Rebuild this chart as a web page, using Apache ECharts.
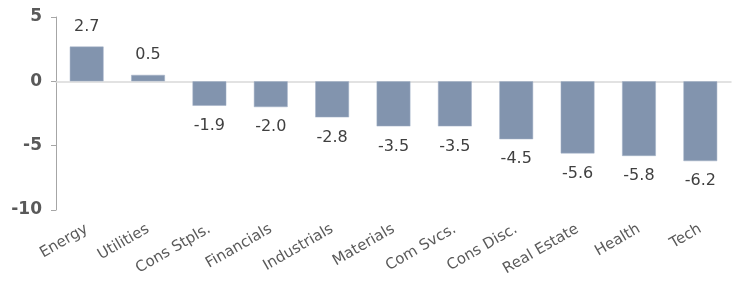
<!DOCTYPE html>
<html>
<head>
<meta charset="utf-8">
<script src="https://cdn.jsdelivr.net/npm/echarts@6/dist/echarts.min.js"></script>
<style>
  html, body { margin: 0; padding: 0; background: #fff; }
  #chart { width: 739px; height: 287px; }
</style>
</head>
<body>
<div id="chart"></div>
<script>
const sectors = ['Energy', 'Utilities', 'Cons Stpls.', 'Financials', 'Industrials', 'Materials', 'Com Svcs.', 'Cons Disc.', 'Real Estate', 'Health', 'Tech']
const returns = [2.7, 0.5, -1.9, -2.0, -2.8, -3.5, -3.5, -4.5, -5.6, -5.8, -6.2]

const font = 'DejaVu Sans'
const chart = echarts.init(document.getElementById('chart'))

const option = {
  animation: false,
  grid: { left: 56, right: 8, top: 17, bottom: 77 },
  xAxis: {
    type: 'category',
    data: sectors,
    axisLine: { onZero: true, lineStyle: { color: '#d9d9d9', width: 1.5 } },
    axisTick: { show: false },
    axisLabel: {
      rotate: 30,
      interval: 0,
      color: '#5a5a5a',
      fontFamily: font,
      fontSize: 15,
      margin: 18
    }
  },
  yAxis: {
    type: 'value',
    min: -10,
    max: 5,
    interval: 5,
    axisLine: { show: true, lineStyle: { color: '#a6a6a6' } },
    axisTick: { show: true, length: 5, lineStyle: { color: '#a6a6a6' } },
    splitLine: { show: false },
    axisLabel: {
      color: '#595959',
      fontFamily: font,
      fontSize: 17,
      fontWeight: 'bold',
      margin: 14
    }
  },
  series: [{
    type: 'bar',
    data: returns.map(v => ({
      value: v,
      label: { position: v >= 0 ? 'top' : 'bottom' }
    })),
    barWidth: '55%',
    itemStyle: { color: '#8294ae', borderColor: '#a3b1c6', borderWidth: 0.5 },
    label: {
      show: true,
      distance: 12,
      color: '#404040',
      fontFamily: font,
      fontSize: 16,
      formatter: p => Number(p.value).toFixed(1)
    }
  }]
}

chart.setOption(option)
</script>
</body>
</html>
